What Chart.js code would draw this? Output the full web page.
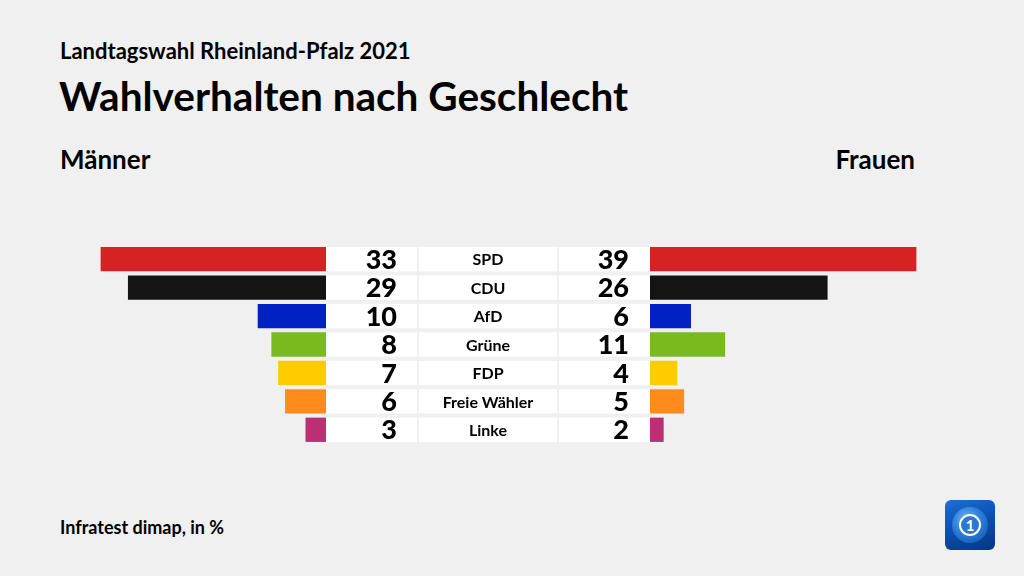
<!DOCTYPE html>
<html>
<head>
<meta charset="utf-8">
<script src="https://cdn.jsdelivr.net/npm/chart.js@4/dist/chart.umd.min.js"></script>
<style>
  html, body { margin: 0; padding: 0; }
  body { width: 1024px; height: 576px; background: #f0f0f0; position: relative; overflow: hidden; font-family: "Lato", sans-serif; color: #000; }
  .t { position: absolute; white-space: nowrap; line-height: 1; font-weight: 700; }
  #sub { left: 60px; top: 40px; font-size: 22px; }
  #title { left: 59px; top: 76px; font-size: 40.5px; }
  #men { left: 60px; top: 146px; font-size: 26px; }
  #women { right: 109px; top: 146px; font-size: 26px; }
  #source { left: 60px; top: 518px; font-size: 18px; }
  #left { position: absolute; left: 0; top: 245px; }
  #right { position: absolute; left: 326px; top: 245px; }
  #logo { position: absolute; left: 945px; top: 500px; width: 50px; height: 50px; border-radius: 6px;
          background: linear-gradient(160deg, #1f6fd6 0%, #0a4fb0 50%, #06367e 100%); }
  #logo .g { position: absolute; left: 7px; top: 7px; width: 36px; height: 36px; border-radius: 50%;
             background: radial-gradient(circle at 40% 35%, #6fb4f5 0%, #2b7fd8 45%, #0c4ea8 100%); }
  #logo .r { position: absolute; left: 14px; top: 14px; width: 18px; height: 18px; border-radius: 50%;
             border: 2px solid #fff; background: #2a78d0; color: #fff; font: 700 15px "Lato"; text-align: center; line-height: 18px; }
</style>
</head>
<body>
<div class="t" id="sub">Landtagswahl Rheinland-Pfalz 2021</div>
<div class="t" id="title">Wahlverhalten nach Geschlecht</div>
<div class="t" id="men">Männer</div>
<div class="t" id="women">Frauen</div>
<div class="t" id="source">Infratest dimap, in %</div>
<canvas id="left" width="326" height="199"></canvas>
<canvas id="right" width="698" height="199"></canvas>
<div id="logo"><div class="g"></div><div class="r">1</div></div>
<script>
const parties = ['SPD', 'CDU', 'AfD', 'Grüne', 'FDP', 'Freie Wähler', 'Linke'];
const men = [33, 29, 10, 8, 7, 6, 3];
const women = [39, 26, 6, 11, 4, 5, 2];
const colors = ['#d62222', '#141414', '#0021c4', '#79ba1e', '#ffcc00', '#ff8c1a', '#bc2f72'];

const PX_PER_UNIT = 6.83;
const CENTER_W = 324;

const common = {
    responsive: false,
    animation: false,
    indexAxis: 'y',
    plugins: { legend: { display: false }, tooltip: { enabled: false } },
};

new Chart(document.getElementById('left'), {
    type: 'bar',
    data: {
        labels: parties,
        datasets: [{
            data: men,
            backgroundColor: colors,
            borderWidth: 0,
            categoryPercentage: 1,
            barPercentage: 0.855,
        }],
    },
    options: {
        ...common,
        layout: { padding: 0 },
        scales: {
            x: { display: false, reverse: true, min: 0, max: 326 / PX_PER_UNIT },
            y: { display: false },
        },
    },
});

// white boxes, numbers and party names between the two bar charts
const centerColumn = {
    id: 'centerColumn',
    afterDatasetsDraw(chart) {
        const { ctx, chartArea, scales } = chart;
        const y = scales.y;
        const band = y.getPixelForValue(1) - y.getPixelForValue(0);
        const h = band * 0.855;
        const x0 = chartArea.left - CENTER_W;
        ctx.save();
        parties.forEach((p, i) => {
            const cy = y.getPixelForValue(i);
            ctx.fillStyle = '#ffffff';
            ctx.fillRect(x0, cy - h / 2, 91, h);
            ctx.fillRect(x0 + 93, cy - h / 2, 138, h);
            ctx.fillRect(x0 + 233, cy - h / 2, 91, h);
            ctx.fillStyle = '#000000';
            ctx.textBaseline = 'middle';
            ctx.font = '900 27px "Lato"';
            ctx.textAlign = 'right';
            ctx.fillText(String(men[i]), x0 + 71, cy + 1);
            ctx.fillText(String(women[i]), x0 + 303, cy + 1);
            ctx.font = '700 16px "Lato"';
            ctx.textAlign = 'center';
            ctx.fillText(p, x0 + 162, cy + 1);
        });
        ctx.restore();
    },
};

new Chart(document.getElementById('right'), {
    type: 'bar',
    data: {
        labels: parties,
        datasets: [{
            data: women,
            backgroundColor: colors,
            borderWidth: 0,
            categoryPercentage: 1,
            barPercentage: 0.855,
        }],
    },
    options: {
        ...common,
        layout: { padding: { left: CENTER_W, right: 0, top: 0, bottom: 0 } },
        scales: {
            x: { display: false, min: 0, max: (698 - CENTER_W) / PX_PER_UNIT },
            y: { display: false },
        },
    },
    plugins: [centerColumn],
});
</script>
</body>
</html>
